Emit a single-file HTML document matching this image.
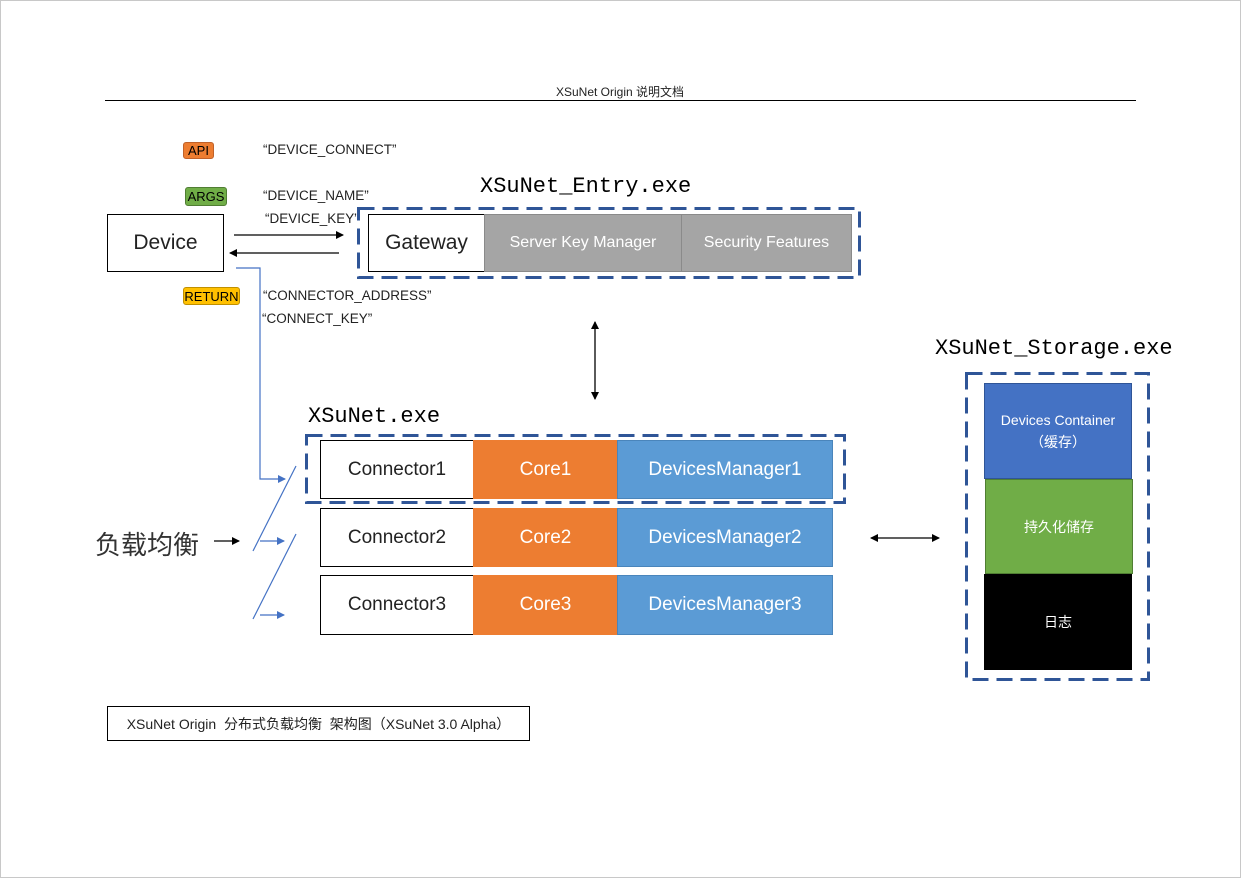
<!DOCTYPE html>
<html><head><meta charset="utf-8"><style>
body{margin:0;width:1241px;height:878px;background:#fff;position:relative;overflow:hidden;font-family:"Liberation Sans","Noto Sans CJK SC",sans-serif;}
.a{position:absolute;box-sizing:border-box;}
.c{display:flex;align-items:center;justify-content:center;text-align:center;}
.mono{font-family:"Liberation Mono","Noto Sans CJK SC",monospace;font-size:22px;color:#000;}
.t{font-size:13.5px;color:#222;}
.tag{border-radius:3px;font-size:13px;border:1px solid;}
</style></head><body>
<div class="a" style="left:0;top:0;width:1241px;height:878px;border:1px solid #c8c8c8"></div>
<div class="a t c" style="left:480px;top:82px;width:280px;height:18px;font-size:12px">XSuNet Origin 说明文档</div>
<div class="a" style="left:105px;top:100px;width:1031px;height:1px;background:#000"></div>

<div class="a tag c" style="left:183px;top:142px;width:31px;height:17px;background:#ed7d31;border-color:#c0622a">API</div>
<div class="a t" style="left:263px;top:142px">“DEVICE_CONNECT”</div>
<div class="a tag c" style="left:185px;top:187px;width:42px;height:19px;background:#70ad47;border-color:#507e33">ARGS</div>
<div class="a t" style="left:263px;top:188px">“DEVICE_NAME”</div>
<div class="a t" style="left:265px;top:211px">“DEVICE_KEY”</div>
<div class="a tag c" style="left:183px;top:287px;width:57px;height:18px;background:#ffc000;border-color:#c09000">RETURN</div>
<div class="a t" style="left:263px;top:288px">“CONNECTOR_ADDRESS”</div>
<div class="a t" style="left:262px;top:311px">“CONNECT_KEY”</div>

<div class="a c" style="left:107px;top:214px;width:117px;height:58px;border:1px solid #000;font-size:21px;color:#222">Device</div>

<div class="a mono" style="left:480px;top:174px">XSuNet_Entry.exe</div>
<div class="a c" style="left:368px;top:214px;width:117px;height:58px;border:1px solid #000;font-size:21px;color:#222;background:#fff">Gateway</div>
<div class="a c" style="left:484px;top:214px;width:198px;height:58px;background:#a5a5a5;border:1px solid #8a8a8a;color:#fff;font-size:16px">Server Key Manager</div>
<div class="a c" style="left:681px;top:214px;width:171px;height:58px;background:#a5a5a5;border:1px solid #8a8a8a;color:#fff;font-size:16px">Security Features</div>

<div class="a mono" style="left:308px;top:404px">XSuNet.exe</div>

<div class="a c" style="left:320px;top:440px;width:154px;height:59px;border:1px solid #000;font-size:19px;color:#222;background:#fff">Connector1</div>
<div class="a c" style="left:473px;top:440px;width:145px;height:59px;background:#ed7d31;color:#fff;font-size:19px">Core1</div>
<div class="a c" style="left:617px;top:440px;width:216px;height:59px;background:#5b9bd5;border:1px solid #4a85bb;color:#fff;font-size:19px">DevicesManager1</div>
<div class="a c" style="left:320px;top:508px;width:154px;height:59px;border:1px solid #000;font-size:19px;color:#222">Connector2</div>
<div class="a c" style="left:473px;top:508px;width:145px;height:59px;background:#ed7d31;color:#fff;font-size:19px">Core2</div>
<div class="a c" style="left:617px;top:508px;width:216px;height:59px;background:#5b9bd5;border:1px solid #4a85bb;color:#fff;font-size:19px">DevicesManager2</div>
<div class="a c" style="left:320px;top:575px;width:154px;height:60px;border:1px solid #000;font-size:19px;color:#222">Connector3</div>
<div class="a c" style="left:473px;top:575px;width:145px;height:60px;background:#ed7d31;color:#fff;font-size:19px">Core3</div>
<div class="a c" style="left:617px;top:575px;width:216px;height:60px;background:#5b9bd5;border:1px solid #4a85bb;color:#fff;font-size:19px">DevicesManager3</div>

<div class="a" style="left:95px;top:525px;font-size:26px;color:#333">负载均衡</div>

<div class="a mono" style="left:935px;top:336px">XSuNet_Storage.exe</div>
<div class="a c" style="left:984px;top:383px;width:148px;height:96px;background:#4472c4;border:1px solid #2f5597;color:#fff;font-size:14px;line-height:22px">Devices Container<br>（缓存）</div>
<div class="a c" style="left:985px;top:479px;width:148px;height:95px;background:#70ad47;border:1px solid #507e33;color:#fff;font-size:14px">持久化储存</div>
<div class="a c" style="left:984px;top:574px;width:148px;height:96px;background:#000;color:#fff;font-size:14px">日志</div>

<div class="a c" style="left:107px;top:706px;width:423px;height:35px;border:1px solid #000;font-size:14px;color:#222">XSuNet Origin&nbsp; 分布式负载均衡&nbsp; 架构图（XSuNet 3.0 Alpha）</div>

<svg class="a" style="left:0;top:0" width="1241" height="878">
<defs>
<marker id="k" markerWidth="8" markerHeight="8" refX="7" refY="4" orient="auto-start-reverse" markerUnits="userSpaceOnUse"><path d="M0,0 L8,4 L0,8z" fill="#000"/></marker>
<marker id="b" markerWidth="8" markerHeight="8" refX="7" refY="4" orient="auto" markerUnits="userSpaceOnUse"><path d="M0,0 L8,4 L0,8z" fill="#4472c4"/></marker>
</defs>
<g stroke="#2f5597" stroke-width="3" fill="none" stroke-dasharray="16 8">
<rect x="358.5" y="208.5" width="501" height="69"/>
<rect x="306.5" y="435.5" width="538" height="67"/>
<rect x="966.5" y="373.5" width="182" height="306"/>
</g>
<g stroke="#000" stroke-width="1.3" fill="none">
<line x1="234" y1="235" x2="343" y2="235" marker-end="url(#k)"/>
<line x1="339" y1="253" x2="230" y2="253" marker-end="url(#k)"/>
<line x1="595" y1="322" x2="595" y2="399" marker-start="url(#k)" marker-end="url(#k)"/>
<line x1="871" y1="538" x2="939" y2="538" marker-start="url(#k)" marker-end="url(#k)"/>
<line x1="214" y1="541" x2="239" y2="541" marker-end="url(#k)"/>
</g>
<g stroke="#4472c4" stroke-width="1.2" fill="none">
<polyline points="236,268 260,268 260,479 285,479" marker-end="url(#b)"/>
<line x1="253" y1="551" x2="296" y2="466"/>
<line x1="253" y1="619" x2="296" y2="534"/>
<line x1="260" y1="541" x2="284" y2="541" marker-end="url(#b)"/>
<line x1="260" y1="615" x2="284" y2="615" marker-end="url(#b)"/>
</g>
</svg>
</body></html>
